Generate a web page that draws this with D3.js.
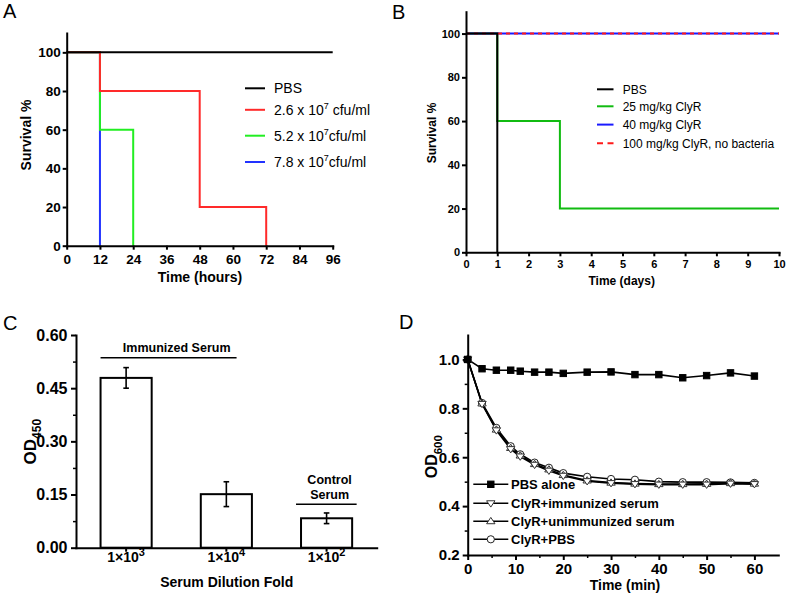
<!DOCTYPE html>
<html><head><meta charset="utf-8">
<script src="https://cdn.jsdelivr.net/npm/d3@7"></script>
<style>
body{margin:0;background:#fff;}
svg{display:block;}
text{font-family:"Liberation Sans",Arial,Helvetica,sans-serif;fill:#000;}
</style></head><body>
<svg id="chart" width="787" height="596"></svg>
<script>
// ---------- DATA ----------
// Panel A: survival vs time (hours)
const aXTicks = [0, 12, 24, 36, 48, 60, 72, 84, 96];
const aYTicks = [0, 20, 40, 60, 80, 100];
const aLabels = ["PBS", "2.6 x 10^7 cfu/ml", "5.2 x 10^7cfu/ml", "7.8 x 10^7cfu/ml"];
const aColors = ["#000000", "#ff2a2a", "#22ee22", "#2233ff"];
const aTimes = [[0, 96], [0, 12, 48, 72], [0, 12, 24], [0, 12]];
const aSurv = [[100, 100], [100, 80, 20, 0], [100, 60, 0], [100, 0]];

// Panel B: survival vs time (days)
const bXTicks = [0, 1, 2, 3, 4, 5, 6, 7, 8, 9, 10];
const bYTicks = [0, 20, 40, 60, 80, 100];
const bLabels = ["PBS", "25 mg/kg ClyR", "40 mg/kg ClyR", "100 mg/kg ClyR, no bacteria"];
const bColors = ["#000000", "#11bb11", "#1a1aff", "#ff1a1a"];
const bTimes = [[0, 1], [0, 1, 3, 10], [0, 10], [0, 10]];
const bSurv = [[100, 0], [100, 60, 20, 20], [100, 100], [100, 100]];

// Panel C: ELISA bars
const cCategories = ["1×10^3", "1×10^4", "1×10^2"];
const cValues = [0.479, 0.151, 0.083];
const cErrors = [0.029, 0.035, 0.015];
const cYTicks = [0, 0.15, 0.30, 0.45, 0.60];
const cYMinor = [0.075, 0.225, 0.375, 0.525];

// Panel D: OD600 vs time (min)
const dTimes = [0, 3, 6, 9, 11, 14, 17, 20, 25, 30, 35, 40, 45, 50, 55, 60];
const dPBSAlone = [1.0, 0.962, 0.956, 0.956, 0.952, 0.948, 0.948, 0.943, 0.948, 0.949, 0.938, 0.938, 0.925, 0.934, 0.945, 0.932];
const dImmunized = [1.0, 0.818, 0.710, 0.633, 0.603, 0.569, 0.545, 0.524, 0.502, 0.494, 0.490, 0.488, 0.488, 0.488, 0.492, 0.490];
const dUnimmunized = [1.0, 0.820, 0.713, 0.638, 0.607, 0.572, 0.550, 0.527, 0.505, 0.496, 0.492, 0.490, 0.490, 0.491, 0.494, 0.492];
const dClyRPBS = [1.0, 0.822, 0.720, 0.645, 0.612, 0.578, 0.557, 0.535, 0.520, 0.511, 0.508, 0.500, 0.498, 0.498, 0.497, 0.495];
const dLabels = ["PBS alone", "ClyR+immunized serum", "ClyR+unimmunized serum", "ClyR+PBS"];
const dMarkers = ["square", "triDown", "triUp", "circle"];
const dXTicks = [0, 10, 20, 30, 40, 50, 60];
const dXMinor = [5, 15, 25, 35, 45, 55];
const dYTicks = [0.2, 0.4, 0.6, 0.8, 1.0];
const dYMinor = [0.3, 0.5, 0.7, 0.9];

// ---------- HELPERS ----------
const svg = d3.select("#chart");
const FONT = "Liberation Sans, Arial, sans-serif";

function styleAxis(g, fs) {
  g.select(".domain").attr("stroke", "#000").attr("stroke-width", 2).attr("stroke-linecap", "square");
  g.selectAll(".tick line").attr("stroke", "#000").attr("stroke-width", 2);
  g.selectAll(".tick text").attr("fill", "#000").attr("font-size", fs)
    .attr("font-weight", "bold").attr("font-family", FONT);
}
function minorAxis(axisFn, scale, vals, size, transform) {
  const g = svg.append("g").attr("transform", transform)
    .call(axisFn(scale).tickValues(vals).tickSize(size).tickFormat(""));
  g.select(".domain").remove();
  g.selectAll(".tick line").attr("stroke", "#000").attr("stroke-width", 1.5);
}
// text with ^X superscripts
function richText(sel, str, supSize, supDy) {
  const parts = str.split(/\^(.)/);
  parts.forEach((p, i) => {
    if (p === "") return;
    if (i % 2 === 1) {
      sel.append("tspan").attr("font-size", supSize).attr("dy", -supDy).text(p);
    } else {
      const t = sel.append("tspan").text(p);
      if (i > 0) t.attr("dy", supDy);
    }
  });
}
function panelLabel(txt, x, y) {
  svg.append("text").attr("x", x).attr("y", y).attr("font-family", "Liberation Serif, Times New Roman, serif")
    .attr("font-size", 20).text(txt);
}

// ---------- PANEL A ----------
panelLabel("A", 3, 18);
{
  const x = d3.scaleLinear().domain([0, 96]).range([66.7, 332.7]);
  const y = d3.scaleLinear().domain([0, 110]).range([245.7, 33]);
  const line = d3.line().x(d => x(d[0])).y(d => y(d[1])).curve(d3.curveStepAfter);
  [3, 2, 1, 0].forEach(i => {
    const pts = aTimes[i].map((t, j) => [t, aSurv[i][j]]);
    svg.append("path").attr("d", line(pts)).attr("fill", "none")
      .attr("stroke", aColors[i]).attr("stroke-width", 2);
  });
  const gx = svg.append("g").attr("transform", `translate(0,${y(0)})`)
    .call(d3.axisBottom(x).tickValues(aXTicks).tickSize(4).tickPadding(5).tickSizeOuter(0));
  styleAxis(gx, 13.5);
  const gy = svg.append("g").attr("transform", `translate(${x(0)},0)`)
    .call(d3.axisLeft(y).tickValues(aYTicks).tickSize(4).tickPadding(2).tickSizeOuter(0));
  styleAxis(gy, 13.5);
  svg.append("text").attr("x", 200).attr("y", 282).attr("text-anchor", "middle")
    .attr("font-size", 14).attr("font-weight", "bold").text("Time (hours)");
  svg.append("text").attr("transform", "translate(31,135) rotate(-90)").attr("text-anchor", "middle")
    .attr("font-size", 14).attr("font-weight", "bold").text("Survival %");
  const rows = [88.3, 109.8, 135.7, 162.0];
  aLabels.forEach((lab, i) => {
    svg.append("line").attr("x1", 245).attr("x2", 265).attr("y1", rows[i]).attr("y2", rows[i])
      .attr("stroke", aColors[i]).attr("stroke-width", 2);
    const t = svg.append("text").attr("x", 274).attr("y", rows[i] + 5).attr("font-size", 14);
    richText(t, lab, 9, 6);
  });
}

// ---------- PANEL B ----------
panelLabel("B", 392, 19);
{
  const x = d3.scaleLinear().domain([0, 10]).range([466, 779]);
  const y = d3.scaleLinear().domain([0, 110]).range([252.3, 11.7]);
  const line = d3.line().x(d => x(d[0])).y(d => y(d[1])).curve(d3.curveStepAfter);
  [1, 2, 3, 0].forEach(i => {
    const pts = bTimes[i].map((t, j) => [t, bSurv[i][j]]);
    const p = svg.append("path").attr("d", line(pts)).attr("fill", "none")
      .attr("stroke", bColors[i]).attr("stroke-width", 2);
    if (i === 3) p.attr("stroke-dasharray", "4,4");
  });
  const gx = svg.append("g").attr("transform", `translate(0,${y(0)})`)
    .call(d3.axisBottom(x).tickValues(bXTicks).tickSize(4).tickPadding(4).tickSizeOuter(0));
  styleAxis(gx, 11);
  const gy = svg.append("g").attr("transform", `translate(${x(0)},0)`)
    .call(d3.axisLeft(y).tickValues(bYTicks).tickSize(4).tickPadding(2).tickSizeOuter(0));
  styleAxis(gy, 11);
  svg.append("text").attr("x", 621.7).attr("y", 285).attr("text-anchor", "middle")
    .attr("font-size", 12).attr("font-weight", "bold").text("Time (days)");
  svg.append("text").attr("transform", "translate(436,133) rotate(-90)").attr("text-anchor", "middle")
    .attr("font-size", 12).attr("font-weight", "bold").text("Survival %");
  const rows = [89.3, 106.3, 124.6, 143.3];
  bLabels.forEach((lab, i) => {
    const l = svg.append("line").attr("x1", 597).attr("x2", 613.5).attr("y1", rows[i]).attr("y2", rows[i])
      .attr("stroke", bColors[i]).attr("stroke-width", 2);
    if (i === 3) l.attr("stroke-dasharray", "6,4.5");
    svg.append("text").attr("x", 622.7).attr("y", rows[i] + 4.3).attr("font-size", 12).text(lab);
  });
}

// ---------- PANEL C ----------
panelLabel("C", 3, 330);
{
  const x = d3.scaleBand().domain(cCategories).range([76, 376.7]).paddingInner(0.49).paddingOuter(0.245);
  const y = d3.scaleLinear().domain([0, 0.6]).range([547.7, 335]);
  const bw = x.bandwidth();
  cCategories.forEach((c, i) => {
    svg.append("rect").attr("x", x(c)).attr("y", y(cValues[i]))
      .attr("width", bw).attr("height", y(0) - y(cValues[i]))
      .attr("fill", "#fff").attr("stroke", "#000").attr("stroke-width", 2);
    const cx = x(c) + bw / 2;
    const hi = y(cValues[i] + cErrors[i]), lo = y(cValues[i] - cErrors[i]);
    svg.append("line").attr("x1", cx).attr("x2", cx).attr("y1", hi).attr("y2", lo)
      .attr("stroke", "#000").attr("stroke-width", 1.6);
    [hi, lo].forEach(v => svg.append("line").attr("x1", cx - 2.8).attr("x2", cx + 2.8)
      .attr("y1", v).attr("y2", v).attr("stroke", "#000").attr("stroke-width", 1.6));
    const t = svg.append("text").attr("x", cx).attr("y", 562).attr("text-anchor", "middle")
      .attr("font-size", 14).attr("font-weight", "bold");
    richText(t, c, 11, 6);
  });
  minorAxis(d3.axisLeft, y, cYMinor, 3, `translate(76,0)`);
  const gx = svg.append("g").attr("transform", `translate(0,${y(0)})`)
    .call(d3.axisBottom(x).tickSize(4).tickFormat("").tickSizeOuter(0));
  styleAxis(gx, 13);
  const gy = svg.append("g").attr("transform", `translate(76,0)`)
    .call(d3.axisLeft(y).tickValues(cYTicks).tickSize(5).tickPadding(3.5).tickSizeOuter(0).tickFormat(d3.format(".2f")));
  styleAxis(gy, 16);
  svg.append("text").attr("x", 226.7).attr("y", 586.5).attr("text-anchor", "middle")
    .attr("font-size", 14).attr("font-weight", "bold").text("Serum Dilution Fold");
  const od = svg.append("text").attr("transform", "translate(36,441.7) rotate(-90)").attr("text-anchor", "middle")
    .attr("font-size", 17).attr("font-weight", "bold");
  od.append("tspan").text("OD");
  od.append("tspan").attr("font-size", 12).attr("dy", 5).text("450");
  // group annotations
  const x0 = x(cCategories[0]), x1 = x(cCategories[1]) + bw * 0.7;
  svg.append("line").attr("x1", x0).attr("x2", x1).attr("y1", 357.7).attr("y2", 357.7)
    .attr("stroke", "#000").attr("stroke-width", 1.6);
  svg.append("text").attr("x", 176.7).attr("y", 352).attr("text-anchor", "middle")
    .attr("font-size", 12.5).attr("font-weight", "bold").text("Immunized Serum");
  const x2 = x(cCategories[2]);
  svg.append("line").attr("x1", x2 - 5).attr("x2", x2 + bw + 4.5).attr("y1", 504.3).attr("y2", 504.3)
    .attr("stroke", "#000").attr("stroke-width", 1.6);
  svg.append("text").attr("x", x2 + bw / 2 + 3).attr("y", 483.6).attr("text-anchor", "middle")
    .attr("font-size", 12.5).attr("font-weight", "bold").text("Control");
  svg.append("text").attr("x", x2 + bw / 2 + 3).attr("y", 498.6).attr("text-anchor", "middle")
    .attr("font-size", 12.5).attr("font-weight", "bold").text("Serum");
}

// ---------- PANEL D ----------
panelLabel("D", 399, 329);
{
  const x = d3.scaleLinear().domain([0, 65]).range([467.7, 778.3]);
  const y = d3.scaleLinear().domain([0.2, 1.1]).range([555, 335]);
  const series = [dPBSAlone, dImmunized, dUnimmunized, dClyRPBS];
  const line = d3.line().x((d, i) => x(dTimes[i])).y(d => y(d));
  function marker(g, type, cx, cy) {
    if (type === "square") {
      g.append("rect").attr("x", cx - 3.2).attr("y", cy - 3.2).attr("width", 6.4).attr("height", 6.4)
        .attr("fill", "#000").attr("stroke", "#000").attr("stroke-width", 1);
    } else if (type === "circle") {
      g.append("circle").attr("cx", cx).attr("cy", cy).attr("r", 3.6)
        .attr("fill", "#fff").attr("stroke", "#222").attr("stroke-width", 1);
    } else {
      const s = 4.2, dir = type === "triUp" ? -1 : 1;
      const pts = [[cx - s, cy - dir * s * 0.6], [cx + s, cy - dir * s * 0.6], [cx, cy + dir * s * 0.9]];
      g.append("path").attr("d", "M" + pts.map(p => p.join(",")).join("L") + "Z")
        .attr("fill", "#fff").attr("stroke", "#333").attr("stroke-width", 1);
    }
  }
  [3, 2, 1, 0].forEach(k => {
    svg.append("path").attr("d", line(series[k])).attr("fill", "none")
      .attr("stroke", "#000").attr("stroke-width", 1.6);
  });
  [3, 2, 1, 0].forEach(k => {
    const g = svg.append("g");
    series[k].forEach((v, i) => marker(g, dMarkers[k], x(dTimes[i]), y(v)));
  });
  minorAxis(d3.axisLeft, y, dYMinor, 3, `translate(${x(0)},0)`);
  minorAxis(d3.axisBottom, x, dXMinor, 3, `translate(0,${y(0.2)})`);
  const gx = svg.append("g").attr("transform", `translate(0,${y(0.2)})`)
    .call(d3.axisBottom(x).tickValues(dXTicks).tickSize(5).tickPadding(3).tickSizeOuter(0));
  styleAxis(gx, 15);
  const gy = svg.append("g").attr("transform", `translate(${x(0)},0)`)
    .call(d3.axisLeft(y).tickValues(dYTicks).tickSize(5).tickPadding(3).tickSizeOuter(0).tickFormat(d3.format(".1f")));
  styleAxis(gy, 15);
  svg.append("text").attr("x", 625).attr("y", 590).attr("text-anchor", "middle")
    .attr("font-size", 14).attr("font-weight", "bold").text("Time (min)");
  const od = svg.append("text").attr("transform", "translate(437,456.7) rotate(-90)").attr("text-anchor", "middle")
    .attr("font-size", 16).attr("font-weight", "bold");
  od.append("tspan").text("OD");
  od.append("tspan").attr("font-size", 11.5).attr("dy", 4.5).text("600");
  const rows = [484.3, 503.3, 521.2, 539.3];
  dLabels.forEach((lab, i) => {
    svg.append("line").attr("x1", 473.3).attr("x2", 508.3).attr("y1", rows[i]).attr("y2", rows[i])
      .attr("stroke", "#000").attr("stroke-width", 1.6);
    marker(svg.append("g"), dMarkers[i], 490.8, rows[i]);
    svg.append("text").attr("x", 511).attr("y", rows[i] + 4.8).attr("font-size", 13)
      .attr("font-weight", "bold").text(lab);
  });
}
</script>
</body></html>
